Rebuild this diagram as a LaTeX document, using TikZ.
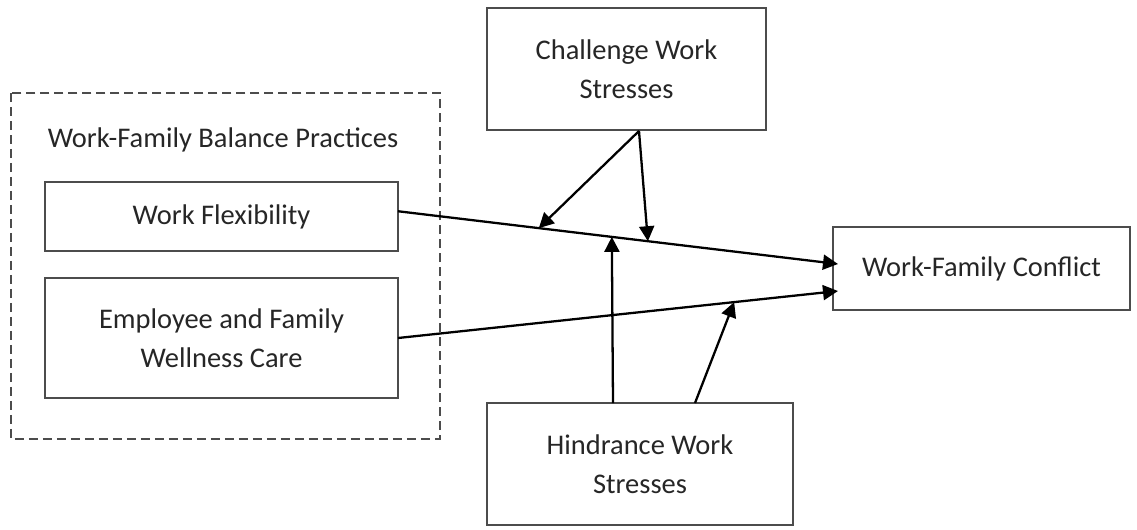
\documentclass[tikz,border=0pt]{standalone}
\usepackage{fontspec}
\setmainfont{Carlito}
\usetikzlibrary{arrows.meta}
\tikzset{
  box/.style={draw=black!70, line width=1.2pt, align=center, text=black!85,
    font=\fontsize{16.2}{22.5}\selectfont, inner sep=0pt, outer sep=0pt},
  arr/.style={-{Triangle[length=0.3cm,width=0.3cm]}, line width=1.3pt, black},
}

\begin{document}
\begin{tikzpicture}[x=0.02cm, y=-0.02cm]
			%%%%% START %%%%%
			\useasboundingbox (0, 0) rectangle (1137, 529);
			
			% practices group
			\draw[black!70, line width=1.4pt, dash pattern=on 0.18cm off 0.1cm] (11, 93) rectangle (440, 439);
			\node[box, draw=none] (wfbp) at (223, 140) {Work-Family Balance Practices};
			
			\node[box, minimum width=7.06cm, minimum height=1.38cm] (wf) at (221.5, 216.5) {Work Flexibility};
			\node[box, minimum width=7.06cm, minimum height=2.4cm] (efw) at (221.5, 338) {Employee and Family\\Wellness Care};
			
			% stresses and outcome
			\node[box, minimum width=5.58cm, minimum height=2.44cm] (cws) at (626.5, 69) {Challenge Work\\Stresses};
			\node[box, minimum width=6.12cm, minimum height=2.44cm] (hws) at (640, 464) {Hindrance Work\\Stresses};
			\node[box, minimum width=5.94cm, minimum height=1.66cm] (wfc) at (981.5, 268.5) {Work-Family Conflict};
			
			\coordinate (wfc in1) at (838, 264);
			\coordinate (wfc in2) at (838, 291);
			\coordinate (cws out) at (639, 131);
			\coordinate (hws out1) at (613, 403);
			\coordinate (hws out2) at (695, 403);
			
			% main effects
			\draw[arr] ([yshift=3pt]wf.east) -- coordinate[pos=0.32] (m1) coordinate[pos=0.486] (m3) coordinate[pos=0.568] (m2) (wfc in1);
			\draw[arr] (efw.east) -- coordinate[pos=0.764] (m4) (wfc in2);
			
			% moderators
			\draw[arr] (cws out) -- (m1);
			\draw[arr] (cws out) -- (m2);
			\draw[arr] (hws out1) -- (m3);
			\draw[arr] (hws out2) -- (m4);
			
			%%%%% END %%%%%
		\end{tikzpicture}
\end{document}
